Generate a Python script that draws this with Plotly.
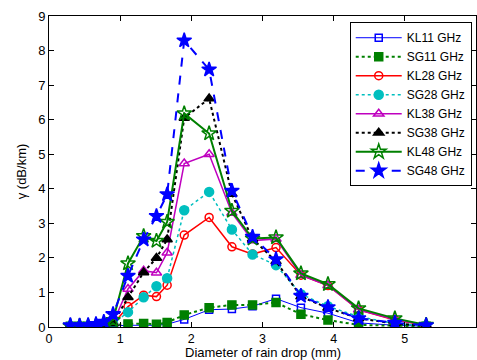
import plotly.graph_objects as go

diam = [0.3, 0.43, 0.55, 0.66, 0.77, 0.9, 1.11, 1.33, 1.51, 1.66, 1.9, 2.25, 2.57, 2.86, 3.19, 3.54, 3.92, 4.35, 4.86, 5.3]

kl11 = [0.01, 0.01, 0.01, 0.02, 0.02, 0.03, 0.05, 0.05, 0.05, 0.08, 0.22, 0.5, 0.52, 0.6, 0.82, 0.56, 0.4, 0.12, 0.05, 0.02]
sg11 = [0.02, 0.02, 0.02, 0.02, 0.03, 0.05, 0.09, 0.1, 0.08, 0.13, 0.35, 0.56, 0.64, 0.64, 0.71, 0.37, 0.2, 0.06, 0.03, 0.02]
kl28 = [0.02, 0.02, 0.02, 0.03, 0.05, 0.08, 0.59, 0.92, 0.88, 1.21, 2.66, 3.17, 2.32, 2.11, 2.3, 1.5, 1.2, 0.5, 0.2, 0.05]
sg28 = [0.02, 0.02, 0.02, 0.03, 0.05, 0.1, 0.43, 0.86, 1.18, 1.41, 3.38, 3.91, 2.82, 2.1, 1.79, 0.95, 0.6, 0.3, 0.1, 0.04]
kl38 = [0.02, 0.02, 0.02, 0.03, 0.05, 0.12, 1.1, 1.63, 1.57, 2.15, 4.73, 5.0, 3.3, 2.5, 2.55, 1.5, 1.2, 0.5, 0.22, 0.05]
sg38 = [0.03, 0.03, 0.03, 0.05, 0.08, 0.1, 0.86, 1.58, 2.0, 2.53, 6.05, 6.61, 3.85, 2.55, 1.9, 0.88, 0.55, 0.25, 0.1, 0.04]
kl48 = [0.03, 0.03, 0.03, 0.05, 0.08, 0.2, 1.84, 2.63, 2.49, 3.04, 6.18, 5.6, 3.36, 2.56, 2.59, 1.55, 1.24, 0.54, 0.25, 0.06]
sg48 = [0.05, 0.04, 0.05, 0.08, 0.15, 0.37, 1.48, 2.53, 3.21, 3.84, 8.29, 7.45, 3.94, 2.61, 1.96, 0.9, 0.57, 0.25, 0.12, 0.05]

names = ["KL11 GHz", "SG11 GHz", "KL28 GHz", "SG28 GHz", "KL38 GHz", "SG38 GHz", "KL48 GHz", "SG48 GHz"]
x_title = "Diameter of rain drop (mm)"
y_title = "γ (dB/km)"

series = [
    (kl11, "#0000ff", "solid", 1, "square-open", 7),
    (sg11, "#008000", "dot", 2, "square", 8),
    (kl28, "#ff0000", "solid", 1.5, "circle-open", 8),
    (sg28, "#00bfbf", "dot", 1.5, "circle", 9),
    (kl38, "#bf00bf", "solid", 1.5, "triangle-up-open", 9),
    (sg38, "#000000", "dot", 2, "triangle-up", 9),
    (kl48, "#008000", "solid", 2, "star-open", 11),
    (sg48, "#0000ff", "dash", 2, "star", 11),
]

fig = go.Figure()
for name, (vals, col, dash, lw, sym, ms) in zip(names, series):
    fig.add_trace(go.Scatter(
        x=diam, y=vals, name=name, mode="lines+markers",
        line=dict(color=col, dash=dash, width=lw),
        marker=dict(symbol=sym, size=ms, color=col, line=dict(color=col, width=1.5)),
    ))

axis_common = dict(showline=True, linecolor="black", linewidth=1, mirror="ticks",
                   ticks="inside", ticklen=5, tickcolor="black", showgrid=False,
                   zeroline=False)

fig.update_layout(
    width=477, height=360,
    margin=dict(l=49, r=1, t=16, b=33),
    paper_bgcolor="white", plot_bgcolor="white",
    font=dict(family="Liberation Sans, Arial, sans-serif", size=13, color="black"),
    xaxis=dict(range=[0, 6], tickvals=[0, 1, 2, 3, 4, 5, 6],
               tickfont=dict(size=12.5, color="black"), **axis_common),
    yaxis=dict(range=[0, 9], tickvals=list(range(10)),
               tickfont=dict(size=13, color="black"),
               title=dict(text=y_title, standoff=8, font=dict(size=13)),
               **axis_common),
    legend=dict(x=0.99, y=0.98, xanchor="right", yanchor="top",
                bgcolor="white", bordercolor="black", borderwidth=1,
                font=dict(size=12), tracegroupgap=0, itemwidth=46),
    showlegend=True,
)
fig.add_annotation(text=x_title, xref="paper", yref="paper", x=0.5, y=0,
                   yshift=-25, xanchor="center", yanchor="middle",
                   showarrow=False, font=dict(size=13, color="black"))

fig.write_html("out.html")
